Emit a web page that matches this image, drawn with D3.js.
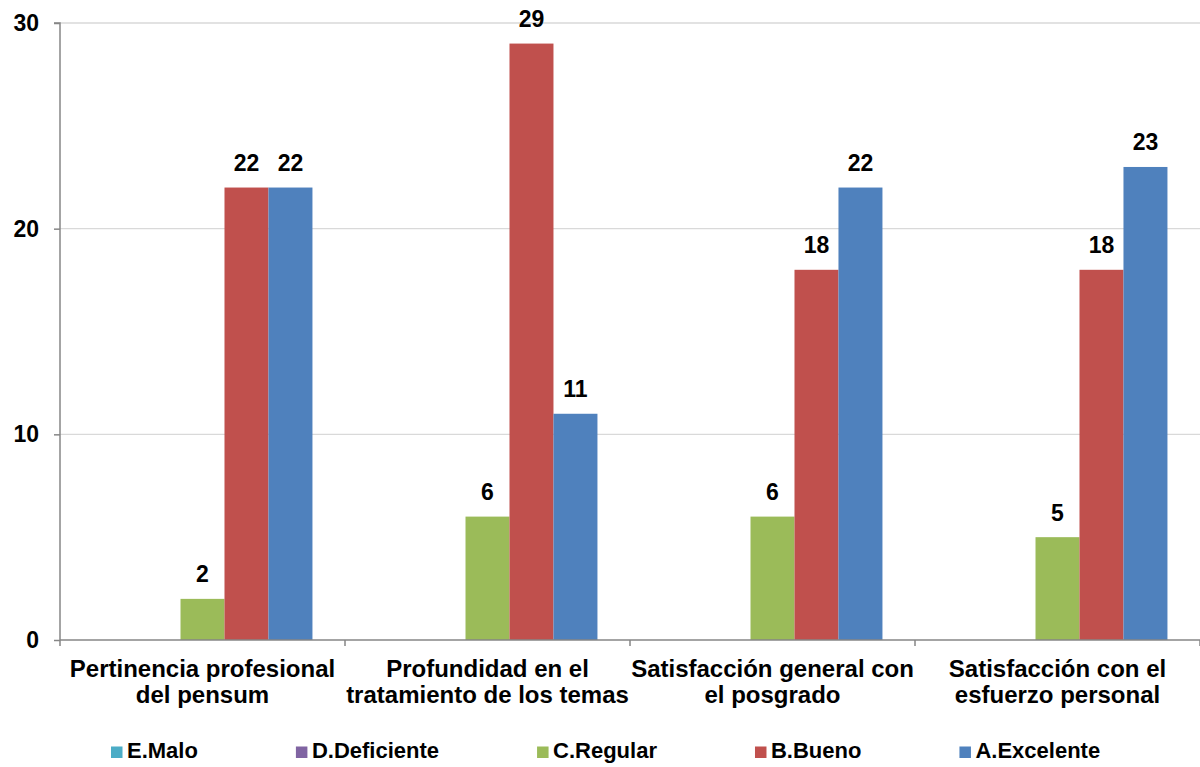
<!DOCTYPE html>
<html>
<head>
<meta charset="utf-8">
<script src="https://cdn.jsdelivr.net/npm/d3@7"></script>
<style>
  body { margin: 0; background: #fff; }
  svg { display: block; font-family: Arial, "Liberation Sans", sans-serif; font-weight: bold; }
</style>
</head>
<body>
<svg id="chart" width="1200" height="767"></svg>
<script>
const categories = [
  ["Pertinencia profesional", "del pensum"],
  ["Profundidad en el", "tratamiento de los temas"],
  ["Satisfacción general con", "el posgrado"],
  ["Satisfacción con el", "esfuerzo personal"]
];
const seriesNames = ["E.Malo", "D.Deficiente", "C.Regular", "B.Bueno", "A.Excelente"];
const seriesColors = ["#4bacc6", "#8064a2", "#9bbb59", "#c0504d", "#4f81bd"];
const malo = [0, 0, 0, 0];
const deficiente = [0, 0, 0, 0];
const regular = [2, 6, 6, 5];
const bueno = [22, 29, 18, 18];
const excelente = [22, 11, 22, 23];
const yTicks = [0, 10, 20, 30];

const values = [malo, deficiente, regular, bueno, excelente];

const svg = d3.select("#chart");
const m = { left: 60, right: 0, top: 23, bottom: 127 };
const W = 1200, H = 767;
const plotW = W - m.left - m.right, plotH = H - m.top - m.bottom;

const x0 = d3.scaleBand().domain(d3.range(categories.length)).range([m.left, m.left + plotW]).padding(0);
const x1 = d3.scaleBand().domain(seriesNames).range([0, x0.bandwidth()]).paddingInner(0).paddingOuter(0.74);
const y = d3.scaleLinear().domain([0, 30]).range([m.top + plotH, m.top]);

// gridlines
svg.append("g")
  .selectAll("line").data(yTicks.filter(t => t > 0)).join("line")
  .attr("x1", m.left).attr("x2", W)
  .attr("y1", d => y(d)).attr("y2", d => y(d))
  .attr("stroke", "#d9d9d9").attr("stroke-width", 1.3);

// bars
const groups = svg.append("g").selectAll("g").data(categories).join("g")
  .attr("transform", (d, i) => `translate(${x0(i)},0)`);

groups.each(function(c, ci) {
  const g = d3.select(this);
  seriesNames.forEach((s, si) => {
    const v = values[si][ci];
    if (v > 0) {
      g.append("rect")
        .attr("x", x1(s)).attr("width", x1.bandwidth())
        .attr("y", y(v)).attr("height", y(0) - y(v))
        .attr("fill", seriesColors[si]);
      g.append("text")
        .attr("x", x1(s) + x1.bandwidth() / 2)
        .attr("y", y(v) - 16.5)
        .attr("text-anchor", "middle")
        .attr("font-size", 23)
        .attr("fill", "#000")
        .text(v);
    }
  });
});

// y axis
const yAxis = d3.axisLeft(y).tickValues(yTicks).tickSize(6).tickPadding(15).tickFormat(d3.format("d"));
const ya = svg.append("g").attr("transform", `translate(${m.left},0)`).call(yAxis);
ya.select(".domain").attr("stroke", "#868686").attr("stroke-width", 1.5).attr("d", `M-6,${y(30)}H0V${y(0)}`);
ya.selectAll(".tick line").attr("stroke", "#868686").attr("stroke-width", 1.5);
ya.selectAll(".tick text").attr("font-size", 23).attr("font-weight", "bold").attr("fill", "#000")
  .attr("font-family", "Arial, 'Liberation Sans', sans-serif");

// x axis
const xa = svg.append("g").attr("transform", `translate(0,${y(0)})`);
xa.append("line").attr("x1", m.left).attr("x2", W).attr("y1", 0).attr("y2", 0)
  .attr("stroke", "#868686").attr("stroke-width", 1.5);
const bounds = d3.range(categories.length + 1).map(i => i < categories.length ? x0(i) : x0(i - 1) + x0.bandwidth());
xa.selectAll("line.tk").data(bounds).join("line").attr("class", "tk")
  .attr("x1", d => d).attr("x2", d => d).attr("y1", 0).attr("y2", 6)
  .attr("stroke", "#868686").attr("stroke-width", 1.5);
xa.selectAll("text.cat").data(categories).join("text").attr("class", "cat")
  .attr("text-anchor", "middle").attr("font-size", 24).attr("fill", "#000")
  .attr("transform", (d, i) => `translate(${x0(i) + x0.bandwidth() / 2},37)`)
  .each(function(d) {
    const t = d3.select(this);
    d.forEach((line, li) => {
      t.append("tspan").attr("x", 0).attr("y", li * 26).text(line);
    });
  });

// legend (sequential layout)
const lg = svg.append("g").attr("transform", "translate(0,752)");
let lx = 111;
seriesNames.forEach((s, i) => {
  lg.append("rect").attr("x", lx).attr("y", -5.5).attr("width", 11.5).attr("height", 11.5).attr("fill", seriesColors[i]);
  const t = lg.append("text").attr("x", lx + 16).attr("y", 6).attr("font-size", 22).attr("fill", "#000").text(s);
  lx = lx + 16 + t.node().getComputedTextLength() + 98;
});
</script>
</body>
</html>
